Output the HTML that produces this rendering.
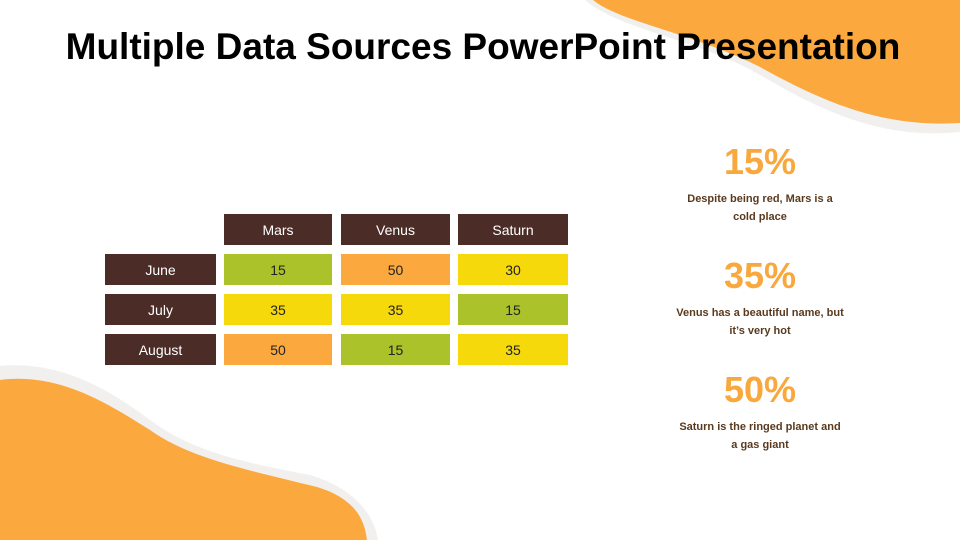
<!DOCTYPE html>
<html><head><meta charset="utf-8"><style>
body{margin:0}
.s{position:relative;width:960px;height:540px;overflow:hidden;background:#fff;font-family:"Liberation Sans",sans-serif}
.c{position:absolute;display:flex;align-items:center;justify-content:center;color:#222;font-family:"Liberation Sans",sans-serif;font-size:14px}
.h{background:#4b2c27;color:#fff}
.g{background:#abc22a}.o{background:#fba93f}.y{background:#f6d90a}
.p{position:absolute;left:660px;width:200px;text-align:center;color:#f8a83c;font-weight:bold;font-size:36px;font-family:"Liberation Sans",sans-serif}
.d{position:absolute;left:650px;width:220px;text-align:center;color:#5a3a1e;font-weight:bold;font-size:11px;line-height:18px;font-family:"Liberation Sans",sans-serif}
</style></head><body><div class="s">
<svg width="960" height="540" style="position:absolute;left:0;top:0">
<path d="M585,0 C620,30 700,40 760,75 C820,110 880,140 960,132 L960,0Z" fill="#f1f0ee"/>
<path d="M593,0 C620,22 690,32 760,67 C820,100 880,128 960,123 L960,0Z" fill="#fba93f"/>
<path d="M0,366 C60,360 110,390 150,420 C190,450 240,462 310,475 C360,490 375,520 378,540 L0,540Z" fill="#f1f0ee"/>
<path d="M0,380 C60,372 110,405 150,430 C190,458 240,468 317,487 C360,500 365,525 367,540 L0,540Z" fill="#fba93f"/>
</svg>
<div style="position:absolute;left:0;width:966px;top:26px;text-align:center;font-weight:bold;font-size:37px;color:#000">Multiple Data Sources PowerPoint Presentation</div>
<div class="c h" style="left:224px;top:214px;width:108px;height:31px">Mars</div>
<div class="c h" style="left:341px;top:214px;width:109px;height:31px">Venus</div>
<div class="c h" style="left:458px;top:214px;width:110px;height:31px">Saturn</div>
<div class="c h" style="left:105px;top:254px;width:111px;height:31px">June</div>
<div class="c h" style="left:105px;top:294px;width:111px;height:31px">July</div>
<div class="c h" style="left:105px;top:334px;width:111px;height:31px">August</div>
<div class="c g" style="left:224px;top:254px;width:108px;height:31px">15</div>
<div class="c o" style="left:341px;top:254px;width:109px;height:31px">50</div>
<div class="c y" style="left:458px;top:254px;width:110px;height:31px">30</div>
<div class="c y" style="left:224px;top:294px;width:108px;height:31px">35</div>
<div class="c y" style="left:341px;top:294px;width:109px;height:31px">35</div>
<div class="c g" style="left:458px;top:294px;width:110px;height:31px">15</div>
<div class="c o" style="left:224px;top:334px;width:108px;height:31px">50</div>
<div class="c g" style="left:341px;top:334px;width:109px;height:31px">15</div>
<div class="c y" style="left:458px;top:334px;width:110px;height:31px">35</div>
<div class="p" style="top:141px">15%</div>
<div class="d" style="top:190px">Despite being red, Mars is a<br>cold place</div>
<div class="p" style="top:255px">35%</div>
<div class="d" style="top:304px">Venus has a beautiful name, but<br>it’s very hot</div>
<div class="p" style="top:369px">50%</div>
<div class="d" style="top:418px">Saturn is the ringed planet and<br>a gas giant</div>
</div></body></html>
